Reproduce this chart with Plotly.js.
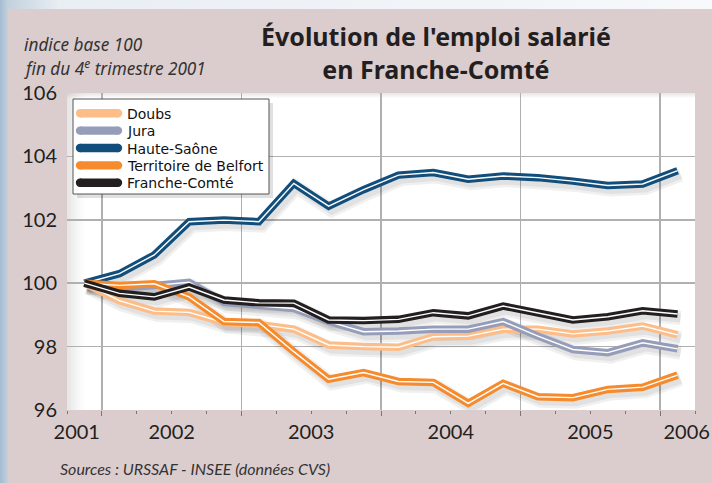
<!DOCTYPE html>
<html>
<head>
<meta charset="utf-8">
<script src="https://cdn.plot.ly/plotly-3.0.1.min.js"></script>
<style>
html,body{margin:0;padding:0;width:712px;height:483px;overflow:hidden;
background:linear-gradient(to right,#a5bbd1 0px,#c3d1de 8px,#e9eef3 60px,#f7f9fb 100%);}
#chart{position:absolute;left:8px;top:9px;width:704px;height:474px;}
</style>
</head>
<body>
<div id="chart"></div>
<script>
// Quarters (index base 100 = Q4 2001)
const quarters = ['2001-T4','2002-T1','2002-T2','2002-T3','2002-T4','2003-T1','2003-T2','2003-T3','2003-T4',
  '2004-T1','2004-T2','2004-T3','2004-T4','2005-T1','2005-T2','2005-T3','2005-T4','2006-T1'];
const doubs   = [100, 99.45, 99.12, 99.08, 98.76, 98.70, 98.55, 98.05, 98.00, 97.98, 98.31, 98.33, 98.55, 98.55, 98.40, 98.49, 98.65, 98.37];
const jura    = [100, 99.85, 99.93, 100.03, 99.40, 99.28, 99.20, 98.79, 98.47, 98.49, 98.55, 98.55, 98.79, 98.33, 97.91, 97.81, 98.12, 97.93];
const hauteSaone = [100, 100.30, 100.89, 101.94, 101.99, 101.94, 103.15, 102.43, 102.95, 103.41, 103.49, 103.28, 103.38, 103.33, 103.22, 103.08, 103.13, 103.55];
const belfort = [100, 99.93, 99.98, 99.57, 98.79, 98.76, 97.84, 96.97, 97.18, 96.90, 96.87, 96.21, 96.84, 96.42, 96.39, 96.65, 96.72, 97.10];
const francheComte = [100, 99.68, 99.57, 99.88, 99.47, 99.38, 99.37, 98.84, 98.82, 98.86, 99.07, 98.97, 99.28, 99.07, 98.84, 98.94, 99.13, 99.03];

const seriesNames = ['Doubs','Jura','Haute-Saône','Territoire de Belfort','Franche-Comté'];
const seriesValues = [doubs, jura, hauteSaone, belfort, francheComte];
const seriesColors = ['#fdbd88','#969db9','#124e7c','#f68b2d','#231f20'];

const yTicks = [96, 98, 100, 102, 104, 106];
const yearBounds = [2002, 2003, 2004, 2005, 2006];
const yearLabels = ['2001','2002','2003','2004','2005','2006'];
const yearLabelPos = [2001.82, 2002.5, 2003.5, 2004.5, 2005.5, 2006.19];

// quarter label -> decimal year (middle of the quarter)
const xq = quarters.map(q => {
  const [y, t] = q.split('-T');
  return +y + (+t - 1) * 0.25 + 0.125;
});

const W = 704, H = 474;
const M = {l: 59, r: 17, t: 84, b: 73};
const PW = W - M.l - M.r, PH = H - M.t - M.b;
// div pixel -> paper fraction helpers (layout positioning only)
const px = v => (v - M.l) / PW;
const py = v => 1 - (v - M.t) / PH;
const OX = 8, OY = 9; // div offset in page

const xr = [2001.75, 2006.25];
const yr = [96, 106];
// shadow offset (pixels -> axis units)
const dx = 3 * (xr[1] - xr[0]) / PW;
const dy = 4 * (yr[1] - yr[0]) / PH;

const traces = [];
// invisible carrier so the base (grid) subplot gets drawn
traces.push({x: xq, y: francheComte, xaxis: 'x', yaxis: 'y', mode: 'lines', showlegend: false,
  hoverinfo: 'skip', opacity: 0, line: {width: 0}});
seriesValues.forEach((vals, i) => {
  traces.push({x: xq, y: vals, xaxis: 'x2', yaxis: 'y2', mode: 'lines', showlegend: false,
    hoverinfo: 'skip', line: {color: 'rgba(0,0,0,0.06)', width: 14}});
  traces.push({x: xq, y: vals, xaxis: 'x2', yaxis: 'y2', mode: 'lines', showlegend: false,
    hoverinfo: 'skip', line: {color: 'rgba(0,0,0,0.06)', width: 9}});
});
seriesValues.forEach((vals, i) => {
  traces.push({x: xq, y: vals, xaxis: 'x3', yaxis: 'y3', mode: 'lines', name: seriesNames[i],
    showlegend: false, line: {color: seriesColors[i], width: 7.5}});
  traces.push({x: xq, y: vals, xaxis: 'x3', yaxis: 'y3', mode: 'lines', showlegend: false,
    hoverinfo: 'skip', line: {color: '#ffffff', width: 1.4}});
});

const shapes = [];
// inner left / top shadow of plot area (soft gradient)
for (let k = 0; k < 12; k++) {
  shapes.push({type: 'rect', xref: 'x domain', yref: 'y domain', layer: 'below',
    x0: k * 1.5 / PW, x1: (k + 1) * 1.5 / PW, y0: 0, y1: 1,
    fillcolor: 'rgba(130,130,130,' + (0.2 * Math.pow(1 - k / 12, 1.3)).toFixed(3) + ')', line: {width: 0}});
}
for (let k = 0; k < 5; k++) {
  shapes.push({type: 'rect', xref: 'x domain', yref: 'y domain', layer: 'below',
    x0: 0, x1: 1, y0: 1 - (k + 1) / PH, y1: 1 - k / PH,
    fillcolor: 'rgba(130,130,130,' + (0.18 * (1 - k / 5)).toFixed(3) + ')', line: {width: 0}});
}

// custom legend (box in page pixels: x 73-269, y 99-194)
const L = {x0: 73 - OX, x1: 269 - OX, y0: 99 - OY, y1: 194 - OY};
shapes.push({type: 'rect', xref: 'paper', yref: 'paper', layer: 'above',
  x0: px(L.x0 + 4), x1: px(L.x1 + 4), y0: py(L.y1 + 4), y1: py(L.y0 + 4),
  fillcolor: 'rgba(0,0,0,0.12)', line: {width: 0}});
shapes.push({type: 'rect', xref: 'paper', yref: 'paper', layer: 'above',
  x0: px(L.x0), x1: px(L.x1), y0: py(L.y1), y1: py(L.y0),
  fillcolor: '#ffffff', line: {color: '#555555', width: 1}});
const legAnn = [];
seriesNames.forEach((name, i) => {
  const yc = 113.3 - OY + i * 17.35;
  const xa = 80 - OX, xb = 118 - OX, r = 4.2;
  shapes.push({type: 'line', xref: 'paper', yref: 'paper', layer: 'above',
    x0: px(xa), x1: px(xb), y0: py(yc), y1: py(yc), line: {color: seriesColors[i], width: 8.4}});
  [xa, xb].forEach(cx => shapes.push({type: 'circle', xref: 'paper', yref: 'paper', layer: 'above',
    x0: px(cx - r), x1: px(cx + r), y0: py(yc + r), y1: py(yc - r),
    fillcolor: seriesColors[i], line: {width: 0}}));
  legAnn.push({text: name, xref: 'paper', yref: 'paper', x: px(125 - OX), y: py(yc + 0.5),
    xanchor: 'left', yanchor: 'middle', showarrow: false,
    font: {family: 'DejaVu Sans, sans-serif', size: 14, color: '#111'}});
});

const tickFont = {family: 'Lato, sans-serif', size: 20, color: '#231f20'};

const layout = {
  width: W, height: H,
  margin: M,
  paper_bgcolor: '#dbcdce',
  plot_bgcolor: '#ffffff',
  showlegend: false,
  xaxis: {range: xr, tickvals: yearBounds, showticklabels: false, showgrid: true,
    gridcolor: '#b0b0b0', gridwidth: 1.5, zeroline: false, showline: false,
    ticks: 'outside', ticklen: 5, tickcolor: '#777', tickwidth: 1,
    minor: {dtick: 0.25, tick0: 2001.75, ticks: 'outside', ticklen: 3, tickcolor: '#777', showgrid: false},
    fixedrange: true},
  yaxis: {range: yr, tickvals: yTicks, showgrid: true, gridcolor: '#b0b0b0', gridwidth: 1.5,
    zeroline: false, showline: false, ticks: '', tickfont: tickFont, ticklabelstandoff: 9,
    fixedrange: true},
  xaxis2: {overlaying: 'x', anchor: 'y2', range: [xr[0] - dx, xr[1] - dx], visible: false, fixedrange: true},
  yaxis2: {overlaying: 'y', anchor: 'x2', range: [yr[0] + dy, yr[1] + dy], visible: false, fixedrange: true},
  xaxis3: {overlaying: 'x', anchor: 'y3', range: xr, side: 'bottom', tickvals: yearLabelPos, ticktext: yearLabels,
    showgrid: false, zeroline: false, showline: false, ticks: '', tickfont: tickFont, ticklabelstandoff: 8,
    fixedrange: true},
  yaxis3: {overlaying: 'y', anchor: 'x3', range: yr, visible: false, fixedrange: true},
  shapes: shapes,
  annotations: [
    {text: "Évolution de l'emploi salarié<br>en Franche-Comté", xref: 'paper', yref: 'paper',
      x: px(436 - OX), y: py(52.5 - OY), xanchor: 'center', yanchor: 'middle', align: 'center', showarrow: false,
      font: {family: 'Noto Sans, sans-serif', size: 25, color: '#231f20', weight: 'bold'}},
    {text: 'indice base 100', xref: 'paper', yref: 'paper',
      x: px(22 - OX), y: py(44 - OY), xanchor: 'left', yanchor: 'middle', align: 'left', showarrow: false,
      font: {family: 'Noto Sans, sans-serif', size: 17.2, color: '#333', style: 'italic'}},
    {text: 'fin du 4<sup>e</sup> trimestre 2001', xref: 'paper', yref: 'paper',
      x: px(22 - OX), y: py(67 - OY), xanchor: 'left', yanchor: 'middle', align: 'left', showarrow: false,
      font: {family: 'Noto Sans, sans-serif', size: 17.2, color: '#333', style: 'italic'}},
    {text: 'Sources : URSSAF - INSEE (données CVS)', xref: 'paper', yref: 'paper',
      x: px(58 - OX), y: py(468 - OY), xanchor: 'left', yanchor: 'middle', showarrow: false,
      font: {family: 'Lato, sans-serif', size: 16, color: '#333', style: 'italic'}}
  ].concat(legAnn)
};

Plotly.newPlot('chart', traces, layout, {displayModeBar: false, staticPlot: true});
</script>
</body>
</html>
